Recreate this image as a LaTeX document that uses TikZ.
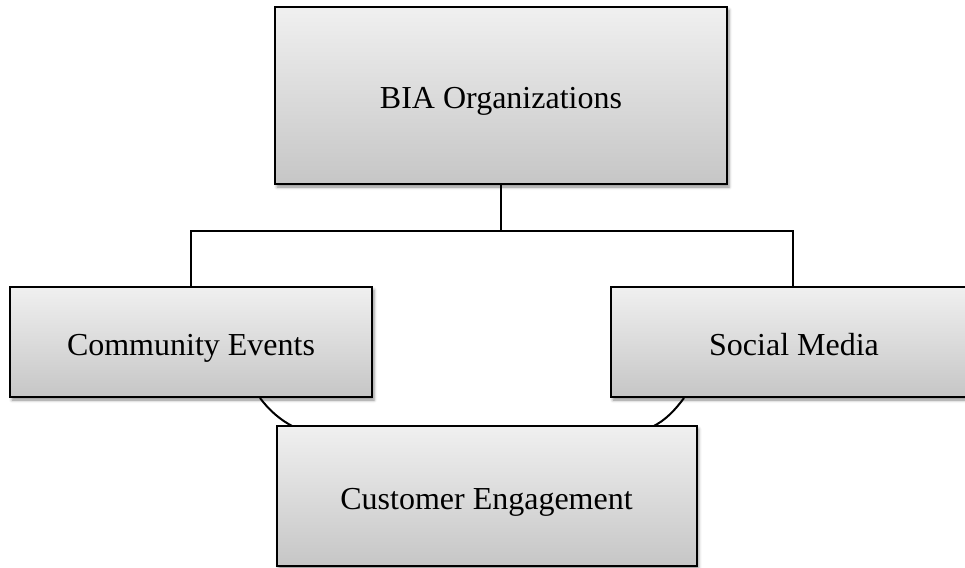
\documentclass[tikz,border=0pt]{standalone}
\usepackage{fontspec}
\setmainfont{Liberation Serif}
\usetikzlibrary{calc,shadows.blur}
\definecolor{boxtop}{RGB}{240,240,240}
\definecolor{boxbot}{RGB}{198,198,198}
\begin{document}
\begin{tikzpicture}[x=1pt,y=-1pt,
  box/.style={draw=black, line width=2pt, rectangle,
    top color=boxtop, bottom color=boxbot,
    blur shadow={shadow xshift=2pt, shadow yshift=-3pt,
      shadow blur radius=3pt, shadow opacity=45},
    font=\fontsize{32}{38}\selectfont, inner sep=0pt,
    text height=26pt, text depth=0pt},
  link/.style={draw=black, line width=1.5pt},
  curvelink/.style={draw=black, line width=2pt}]
\useasboundingbox (0,0) rectangle (965,567);

% boxes
\node[box, minimum width=452pt, minimum height=177pt] (org) at (501,95.5) {BIA Organizations};
\node[box, minimum width=362pt, minimum height=110pt] (events) at (191,342) {Community Events};
\node[box, minimum width=366pt, minimum height=110pt] (social) at (794,342) {Social Media};

% curved links into the engagement box (drawn before it so it sits on top)
\coordinate (la) at ($(events.south east)+(-113,0)$);
\coordinate (lb) at ($(events.south east)+(-79,29)$);
\coordinate (ra) at ($(social.south west)+(74,0)$);
\coordinate (rb) at ($(social.south west)+(42,29)$);
\draw[curvelink] (la) .. controls ($(la)+(9,12)$) and ($(lb)+(-14,-7)$) .. (lb);
\draw[curvelink] (ra) .. controls ($(ra)+(-9,12)$) and ($(rb)+(14,-7)$) .. (rb);

\node[box, minimum width=420pt, minimum height=140pt] (engage) at (486.5,496) {Customer Engagement};

% tree connectors from the top box
\coordinate (bus) at (501,231);
\draw[link] (org.south) -- (bus);
\draw[link] (events.north) |- (bus) -| ($(social.north)+(-1,0)$);
\end{tikzpicture}
\end{document}
